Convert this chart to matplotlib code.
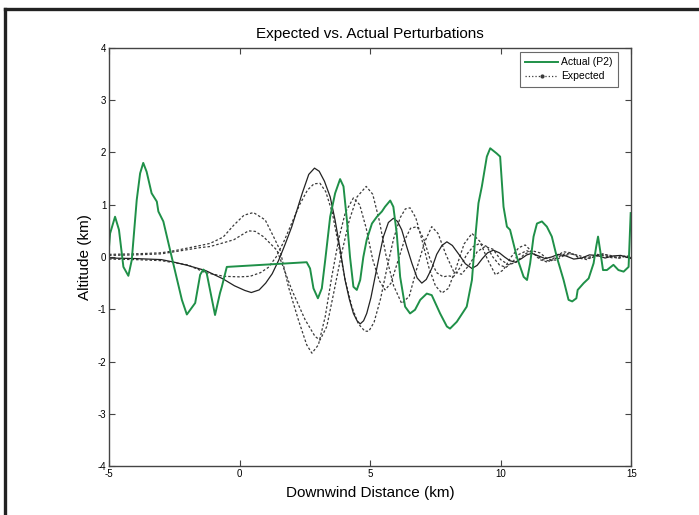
import numpy as np
import matplotlib
matplotlib.use('Agg')
import matplotlib.pyplot as plt
from matplotlib.lines import Line2D

plt.rcParams['font.family'] = ['Liberation Sans', 'DejaVu Sans']
plt.rcParams['axes.unicode_minus'] = False

# actual (green) track
actual_x = [-5.0, -4.96, -4.77, -4.62, -4.45, -4.26, -4.13, -3.94, -3.81, -3.69, -3.56,
            -3.37, -3.17, -3.11, -2.92, -2.60, -2.21, -2.02, -1.70, -1.51, -1.39, -1.26,
            -0.94, -0.75, -0.68, -0.49, 2.57, 2.70, 2.83, 3.0, 3.15, 3.28, 3.47, 3.66,
            3.85, 3.98, 4.11, 4.23, 4.36, 4.49, 4.62, 4.74, 4.87, 5.07, 5.26, 5.45, 5.57,
            5.77, 5.89, 6.02, 6.15, 6.34, 6.53, 6.72, 6.92, 7.17, 7.36, 7.68, 7.94, 8.06,
            8.32, 8.70, 8.90, 9.02, 9.15, 9.28, 9.47, 9.60, 9.85, 9.98, 10.11, 10.24,
            10.36, 10.62, 10.88, 11.01, 11.13, 11.26, 11.39, 11.58, 11.77, 11.96, 12.15,
            12.41, 12.60, 12.74, 12.90, 12.95, 13.18, 13.37, 13.56, 13.66, 13.73, 13.81,
            13.92, 14.07, 14.32, 14.51, 14.71, 14.90, 14.98]
actual_y = [0.2, 0.45, 0.77, 0.52, -0.19, -0.36, -0.06, 1.09, 1.6, 1.80, 1.63,
            1.22, 1.06, 0.87, 0.68, 0.0, -0.82, -1.10, -0.88, -0.34, -0.24, -0.31,
            -1.11, -0.69, -0.57, -0.19, -0.10, -0.22, -0.60, -0.79, -0.60, -0.06, 0.77, 1.22,
            1.49, 1.35, 0.71, 0.0, -0.57, -0.63, -0.44, 0.0, 0.33, 0.64, 0.77, 0.87, 0.96,
            1.08, 0.96, 0.45, -0.38, -0.95, -1.08, -1.01, -0.82, -0.70, -0.73, -1.08, -1.33, -1.37,
            -1.24, -0.95, -0.44, 0.33, 1.03, 1.35, 1.92, 2.08, 1.98, 1.92, 0.96, 0.58,
            0.52, 0.0, -0.38, -0.44, -0.12, 0.39, 0.64, 0.68, 0.58, 0.39, 0.0,
            -0.44, -0.82, -0.85, -0.79, -0.63, -0.50, -0.41, -0.12, 0.20, 0.39, 0.13,
            -0.25, -0.25, -0.15, -0.25, -0.28, -0.19, 0.84]

# expected (solid black)
exp_x = [-5, -4, -3, -2.5, -2, -1.3, -0.63, -0.2, 0.2, 0.45, 0.75, 1.0, 1.25, 1.5, 1.75,
         2.0, 2.2, 2.4, 2.65, 2.87, 3.05, 3.25, 3.47, 3.66, 3.85, 4.04, 4.2, 4.36, 4.5,
         4.62, 4.75, 4.87, 5.03, 5.19, 5.35, 5.51, 5.7, 5.89, 6.05, 6.21, 6.4, 6.6, 6.8,
         6.98, 7.15, 7.36, 7.55, 7.75, 7.94, 8.15, 8.4, 8.65, 8.9, 9.1, 9.3, 9.5, 9.72,
         9.95, 10.15, 10.35, 10.56, 10.8, 11.0, 11.19, 11.45, 11.7, 11.95, 12.2, 12.5,
         12.8, 13.1, 13.4, 13.7, 14.0, 14.3, 14.6, 15]
exp_y = [-0.02, -0.03, -0.05, -0.1, -0.16, -0.26, -0.42, -0.55, -0.64, -0.68, -0.63, -0.50,
         -0.32, -0.06, 0.25, 0.58, 0.9, 1.22, 1.58, 1.70, 1.64, 1.45, 1.15, 0.70, 0.15,
         -0.44, -0.8, -1.08, -1.22, -1.28, -1.22, -1.08, -0.78, -0.38, 0.02, 0.39, 0.66,
         0.74, 0.68, 0.52, 0.2, -0.12, -0.4, -0.50, -0.43, -0.22, 0.05, 0.22, 0.29, 0.22,
         0.05, -0.13, -0.22, -0.16, -0.03, 0.08, 0.13, 0.08, 0.0, -0.07, -0.1, -0.03, 0.04,
         0.07, 0.02, -0.03, 0.0, 0.05, 0.02, -0.04, -0.02, 0.04, 0.03, -0.02, 0.02, 0.03,
         -0.03]

# dotted bounds
bound_a_x = [-5, -4, -3, -2.5, -2, -1.5, -1.13, -0.63, -0.22, 0.17, 0.53, 0.98, 1.30, 1.55,
             1.87, 2.25, 2.57, 2.77, 3.02, 3.28, 3.53, 3.8, 4.05, 4.36, 4.6, 4.85, 5.1,
             5.35, 5.57, 5.8, 6.05, 6.3, 6.55, 6.8, 7.05, 7.3, 7.55, 7.8, 8.0, 8.19, 8.45,
             8.7, 8.95, 9.2, 9.47, 9.7, 9.95, 10.2, 10.45, 10.7, 11.0, 11.3, 11.6, 11.9,
             12.2, 12.5, 12.8, 13.1, 13.4, 13.7, 14.0, 14.3, 14.6, 15]
bound_a_y = [0.05, 0.06, 0.08, 0.12, 0.17, 0.22, 0.26, 0.38, 0.61, 0.8, 0.85, 0.71, 0.39,
             0.13, -0.57, -1.2, -1.68, -1.84, -1.68, -1.14, -0.38, 0.35, 0.85, 1.13, 1.0,
             0.55, -0.05, -0.45, -0.63, -0.5, -0.1, 0.3, 0.55, 0.58, 0.35, -0.05, -0.3,
             -0.38, -0.36, -0.38, -0.2, 0.05, 0.2, 0.26, 0.2, 0.0, -0.15, -0.2, -0.1, 0.05,
             0.12, 0.05, -0.05, -0.08, 0.0, 0.07, 0.05, -0.03, 0.0, 0.05, 0.02, -0.02, 0.02,
             0.0]

bound_b_x = [-5, -4, -3, -2.5, -2, -1.5, -1.13, -0.63, -0.22, 0.34, 0.6, 0.91, 1.43, 2.0,
             2.51, 2.89, 3.08, 3.34, 3.6, 3.9, 4.2, 4.5, 4.85, 5.1, 5.35, 5.6, 5.9, 6.21,
             6.5, 6.8, 7.1, 7.36, 7.6, 7.9, 8.2, 8.5, 8.8, 9.1, 9.4, 9.7, 10.0, 10.3, 10.6,
             10.9, 11.2, 11.5, 11.8, 12.1, 12.4, 12.7, 13.0, 13.3, 13.6, 13.9, 14.2, 14.5,
             14.8, 15]
bound_b_y = [0.03, 0.04, 0.06, 0.1, 0.14, 0.18, 0.2, 0.27, 0.33, 0.5, 0.49, 0.39, 0.13,
             -0.63, -1.2, -1.52, -1.59, -1.33, -0.70, 0.05, 0.7, 1.15, 1.35, 1.2, 0.7,
             0.05, -0.55, -0.89, -0.75, -0.2, 0.3, 0.58, 0.45, 0.05, -0.28, -0.33, -0.15,
             0.1, 0.2, 0.15, -0.05, -0.15, -0.1, 0.05, 0.12, 0.08, -0.04, -0.06, 0.02, 0.06,
             0.03, -0.03, 0.0, 0.05, 0.03, -0.02, 0.02, 0.0]

bound_c_x = [-5, -4, -3, -2, -1.3, -0.6, 0.0, 0.4, 0.8, 1.1, 1.4, 1.7, 2.0, 2.3, 2.6, 2.85,
             3.08, 3.3, 3.55, 3.8, 4.05, 4.3, 4.55, 4.8, 4.95, 5.15, 5.4, 5.65, 5.9, 6.15,
             6.35, 6.53, 6.75, 7.0, 7.25, 7.5, 7.75, 8.0, 8.3, 8.6, 8.9, 9.2, 9.5, 9.8,
             10.1, 10.4, 10.7, 10.94, 11.2, 11.5, 11.8, 12.1, 12.4, 12.7, 13.0, 13.3, 13.6,
             13.9, 14.2, 14.5, 14.8, 15]
bound_c_y = [-0.04, -0.05, -0.07, -0.15, -0.3, -0.37, -0.38, -0.37, -0.3, -0.2, 0.0, 0.3,
             0.65, 1.0, 1.28, 1.4, 1.41, 1.25, 0.85, 0.2, -0.45, -0.95, -1.28, -1.42, -1.42,
             -1.25, -0.8, -0.2, 0.35, 0.75, 0.92, 0.94, 0.75, 0.3, -0.2, -0.55, -0.69,
             -0.6, -0.2, 0.25, 0.45, 0.3, -0.05, -0.34, -0.25, 0.0, 0.18, 0.23, 0.1, -0.05,
             -0.1, 0.0, 0.1, 0.08, -0.02, -0.05, 0.02, 0.06, 0.02, -0.03, 0.02, 0.0]

fig = plt.figure(figsize=(6.99, 5.15), dpi=100)
ax = fig.add_axes([0.156, 0.095, 0.747, 0.812])

green = '#1f9048'
dash_col = '#3a3a3a'
for bx, by in [(bound_a_x, bound_a_y), (bound_b_x, bound_b_y), (bound_c_x, bound_c_y)]:
    ax.plot(bx, by, color=dash_col, lw=0.9, dashes=(2, 1.6))
ax.plot(exp_x, exp_y, color='#222222', lw=0.9)
ax.plot(actual_x, actual_y, color=green, lw=1.4)

ax.set_xlim(-5, 15)
ax.set_ylim(-4, 4)
ax.set_xticks([-5, 0, 5, 10, 15])
ax.set_yticks([-4, -3, -2, -1, 0, 1, 2, 3, 4])
ax.tick_params(direction='in', length=4, labelsize=7, top=True, right=True, pad=2,
               color='#444444')
for s in ax.spines.values():
    s.set_color('#444444')
    s.set_linewidth(1.0)

ax.set_title('Expected vs. Actual Perturbations', fontsize=11, pad=7)
ax.set_xlabel('Downwind Distance (km)', fontsize=11, labelpad=5)
ax.set_ylabel('Altitude (km)', fontsize=11, labelpad=4)

handles = [Line2D([], [], color=green, lw=1.4),
           Line2D([], [], color=dash_col, lw=0.9, ls=':', marker='.', markersize=4)]
leg = ax.legend(handles, ['Actual (P2)', 'Expected'], loc='upper right', fontsize=7.5,
                bbox_to_anchor=(0.975, 0.99), frameon=True, fancybox=False,
                borderaxespad=0.0, handlelength=3.2, handletextpad=0.3,
                borderpad=0.5, labelspacing=0.4)
leg.get_frame().set_edgecolor('#444444')
leg.get_frame().set_linewidth(0.8)

# outer frame lines of the cropped screenshot
fig.add_artist(Line2D([0.007, 1.0], [0.982, 0.982], color='#222222', lw=2.4,
                      transform=fig.transFigure))
fig.add_artist(Line2D([0.007, 0.007], [0.0, 0.982], color='#222222', lw=2.4,
                      transform=fig.transFigure))

fig.savefig('out.png', dpi=100)
